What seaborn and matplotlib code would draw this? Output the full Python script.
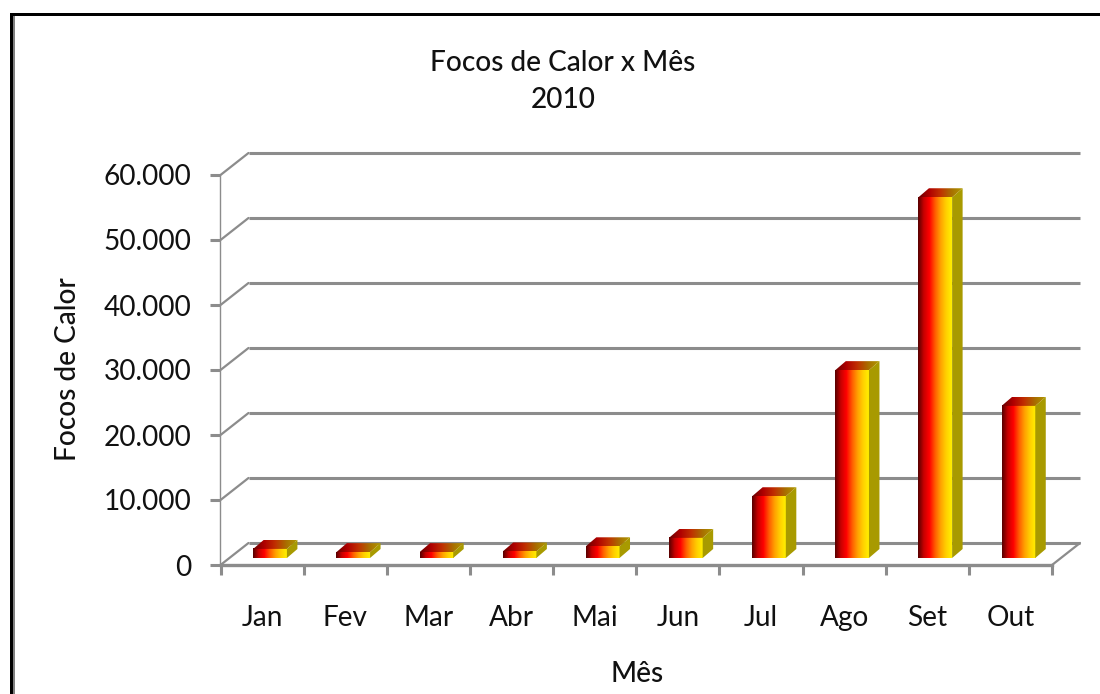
import numpy as np
import matplotlib
matplotlib.use("Agg")
import matplotlib.pyplot as plt
import seaborn as sns
from matplotlib.colors import LinearSegmentedColormap
from matplotlib.patches import Polygon, Rectangle
from matplotlib.transforms import ScaledTranslation

months = ["Jan", "Fev", "Mar", "Abr", "Mai", "Jun", "Jul", "Ago", "Set", "Out"]
focos = [1400, 900, 900, 1000, 1800, 3100, 9500, 28900, 55500, 23400]
y_ticks = [0, 10000, 20000, 30000, 40000, 50000, 60000]
y_tick_labels = ["0", "10.000", "20.000", "30.000", "40.000", "50.000", "60.000"]

GRID = "#8c8c8c"
SIDE = "#a89a00"
TEXT = "#111111"
FONT_SIZE = 20.2
DPI = 100
W, H = 1100, 694

sns.set_style("white")
plt.rcParams["font.family"] = ["Lato", "DejaVu Sans"]

fig = plt.figure(figsize=(W / DPI, H / DPI), dpi=DPI)
left, right, bottom, top = 220.5, 1052.0, 565.0, 175.0
ax = fig.add_axes([left / W, 1 - bottom / H, (right - left) / W, (bottom - top) / H])

# Front faces of the columns
sns.barplot(x=months, y=focos, color="#ff0000", width=0.405, ax=ax, zorder=5)
ax.set_xlim(-0.5, 9.5)
ax.set_ylim(0, 60000)

# Depth of the plot box and of the columns, converted to data units
px_x = 10 / (right - left)
px_y = 60000 / (bottom - top)
wall = (28 * px_x, 22 * px_y)
col = (10.5 * px_x, 9 * px_y)


def shifted(dx_px, dy_px):
    return ax.transData + ScaledTranslation(dx_px / DPI, dy_px / DPI, fig.dpi_scale_trans)


# Back wall gridlines, with the diagonals running from the left wall
for v in y_ticks:
    ax.plot([-0.5, 9.5], [v, v], color=GRID, lw=2.2, transform=shifted(28, 22),
            clip_on=False, zorder=1, solid_capstyle="butt")
    ax.plot([-0.5, -0.5 + wall[0]], [v, v + wall[1]], color=GRID, lw=1.6,
            clip_on=False, zorder=1)
ax.plot([9.5, 9.5 + wall[0]], [0, wall[1]], color=GRID, lw=1.6, clip_on=False, zorder=1)

# Columns: gradient front, gradient top and flat side face
front_cmap = LinearSegmentedColormap.from_list(
    "front", ["#5a0000", "#c80000", "#ff0000", "#ff5a00", "#ffa000", "#ffd000", "#ffee00"])
top_cmap = LinearSegmentedColormap.from_list(
    "top", ["#6a0000", "#b00000", "#c03000", "#a87000", "#b09a00"])
bar_shift = shifted(8, 7)
gradient = np.linspace(0, 1, 64).reshape(1, -1)

for bar, value in zip(list(ax.patches), focos):
    x0 = bar.get_x()
    x1 = x0 + bar.get_width()
    bar.set_transform(bar_shift)
    bar.set_visible(False)

    img = ax.imshow(gradient, cmap=front_cmap, extent=(x0, x1, 0, value), aspect="auto",
                    transform=bar_shift, zorder=5, interpolation="bilinear")
    img.set_clip_on(False)

    side = Polygon([(x1, 0), (x1 + col[0], col[1]), (x1 + col[0], value + col[1]), (x1, value)],
                   closed=True, facecolor=SIDE, edgecolor="none", transform=bar_shift,
                   clip_on=False, zorder=5)
    ax.add_patch(side)

    lid = Polygon([(x0, value), (x1, value), (x1 + col[0], value + col[1]), (x0 + col[0], value + col[1])],
                  closed=True, facecolor="none", edgecolor="none", transform=bar_shift,
                  clip_on=False, zorder=6)
    ax.add_patch(lid)
    lid_img = ax.imshow(gradient, cmap=top_cmap,
                        extent=(x0, x1 + col[0], value, value + col[1]), aspect="auto",
                        transform=bar_shift, zorder=6, interpolation="bilinear")
    lid_img.set_clip_path(lid)

ax.set_xlim(-0.5, 9.5)
ax.set_ylim(0, 60000)

# Axes: tick marks on the category boundaries, labels at the category centres
for name in ("top", "right"):
    ax.spines[name].set_visible(False)
ax.spines["bottom"].set(color=GRID, linewidth=2.4, zorder=4)
ax.spines["left"].set(color=GRID, linewidth=1.0)
ax.patch.set_alpha(0)

ax.set_yticks(y_ticks, y_tick_labels)
ax.set_xticks(np.arange(-0.5, 10, 1), [""] * 11)
ax.set_xticks(np.arange(10), months, minor=True)
ax.tick_params(axis="y", which="major", left=True, length=7.2, width=2.2, color=GRID,
               pad=13.5, labelsize=FONT_SIZE, labelcolor=TEXT)
ax.tick_params(axis="x", which="major", bottom=True, length=7.2, width=2.2, color=GRID)
ax.tick_params(axis="x", which="minor", bottom=False, length=0, pad=29, labelsize=FONT_SIZE,
               labelcolor=TEXT)

fig.text(563 / W, 1 - 63 / H, "Focos de Calor x Mês", ha="center", va="center",
         fontsize=FONT_SIZE, color=TEXT, fontweight="medium")
fig.text(563 / W, 1 - 100 / H, "2010", ha="center", va="center", fontsize=FONT_SIZE, color=TEXT,
         fontweight="medium")
fig.text(68 / W, 1 - 369 / H, "Focos de Calor", rotation=90, ha="center", va="center",
         fontsize=FONT_SIZE, color=TEXT, fontweight="medium")
fig.text(637 / W, 1 - 674 / H, "Mês", ha="center", va="center", fontsize=FONT_SIZE, color=TEXT,
         fontweight="medium")

# Outer frame, open on the right and at the bottom
fig.add_artist(Rectangle((10 / W, 0), 3 / W, 1 - 13 / H, transform=fig.transFigure,
                         facecolor="black", edgecolor="none"))
fig.add_artist(Rectangle((10 / W, 1 - 16 / H), 1 - 10 / W, 3 / H, transform=fig.transFigure,
                         facecolor="black", edgecolor="none"))
fig.add_artist(Rectangle((13 / W, 0), 2 / W, 1 - 16 / H, transform=fig.transFigure,
                         facecolor="#808080", edgecolor="none"))

fig.savefig("out.png", dpi=DPI)
